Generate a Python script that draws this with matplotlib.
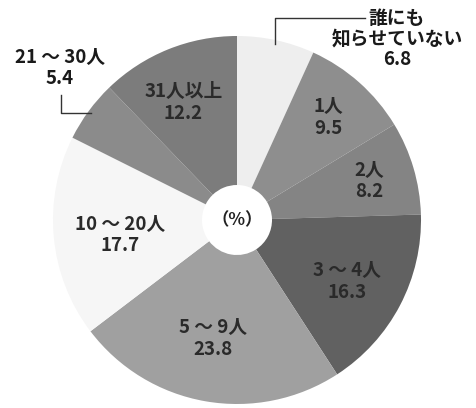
import numpy as np
import matplotlib
matplotlib.use("Agg")
import matplotlib.pyplot as plt

plt.rcParams['font.family'] = ['Noto Sans CJK JP', 'DejaVu Sans']

# Share of respondents by how many people they told (%)
categories = ["誰にも\n知らせていない", "1人", "2人", "3 ～ 4人", "5 ～ 9人",
              "10 ～ 20人", "21 ～ 30人", "31人以上"]
values = [6.8, 9.5, 8.2, 16.3, 23.8, 17.7, 5.4, 12.2]
colors = ["#eeeeee", "#8e8e8e", "#848484", "#616161", "#a0a0a0",
          "#f6f6f6", "#8b8b8b", "#7c7c7c"]

W, H = 476, 408
fig = plt.figure(figsize=(W / 100, H / 100), dpi=100)
ax = fig.add_axes([0, 0, 1, 1])

cx, cy = 237, 188
R, r_hole = 184, 35

ax.pie(values, colors=colors, startangle=90, counterclock=False,
       center=(cx, cy), radius=R, frame=True,
       wedgeprops=dict(width=R - r_hole, linewidth=0))
ax.set_xlim(0, W)
ax.set_ylim(0, H)
ax.set_aspect('equal')
ax.axis('off')

total = sum(values)
cum = np.cumsum([0] + values)
mid = [(cum[i] + cum[i + 1]) / 2 / total * 360 for i in range(len(values))]


def polar(angle, rad):
    a = np.deg2rad(angle)
    return cx + rad * np.sin(a), cy + rad * np.cos(a)


fs = 13.5
txt_dark = "#2a2a2a"

# labels inside the ring
inner = {1: (137, 0), 2: (138, 0), 3: (126, 1.5), 4: (121, 1.7),
         5: (118, -2), 7: (129, -2.5)}
for i, (rad, da) in inner.items():
    x, y = polar(mid[i] + da, rad)
    ax.text(x, y, f"{categories[i]}\n{values[i]}", ha='center', va='center',
            fontsize=fs, fontweight='bold', color=txt_dark, linespacing=1.15)

# "nobody" slice: leader goes up then right
x0, y0 = polar(mid[0], R - 4)
ax.plot([x0, x0, 365], [y0, H - 18, H - 18], color="#333333", lw=1.0)
ax.text(397, H - 39, f"{categories[0]}\n{values[0]}", ha='center',
        va='center', fontsize=fs, fontweight='bold', color="#1a1a1a",
        linespacing=1.1)

# 21-30 slice: leader goes left then up
x6, y6 = polar(mid[6], R - 3)
ax.plot([x6, 61, 61], [y6, y6, H - 95], color="#333333", lw=1.0)
ax.text(60, H - 68, f"{categories[6]}\n{values[6]}", ha='center',
        va='center', fontsize=fs, fontweight='bold', color="#1a1a1a",
        linespacing=1.15)

ax.text(cx, cy, "（%）", ha='center', va='center', fontsize=12.5,
        fontweight='bold', color="#222222")

fig.savefig("out.png", dpi=100, facecolor="white")
